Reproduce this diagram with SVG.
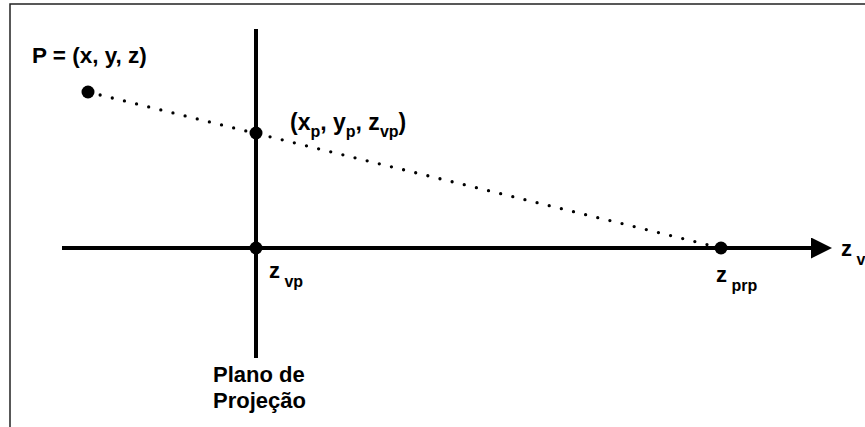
<svg xmlns="http://www.w3.org/2000/svg" width="865" height="427" viewBox="0 0 865 427">
  <defs>
    <style>
      .lbl { font-family: "Liberation Sans", Arial, sans-serif; font-weight: bold; fill: #000; }
      .pt { fill: #000; }
      .frame { fill: none; stroke: #222; stroke-width: 1.5; }
      .solid { stroke: #000; stroke-width: 4; fill: none; }
      .dots { stroke: #000; stroke-width: 3.3; stroke-linecap: round; stroke-dasharray: 0 12.5; fill: none; }
    </style>
    <marker id="arrow" markerWidth="22" markerHeight="22" refX="0" refY="10.5" orient="auto" markerUnits="userSpaceOnUse">
      <path d="M0,0 L21,10.5 L0,21 Z" fill="#000"/>
    </marker>
  </defs>
  <rect width="865" height="427" fill="#fff"/>
  <path class="frame" d="M10,427 L10,4 L865,4"/>

  <g id="connectors">
    <line id="projector" class="dots" x1="88" y1="92" x2="721" y2="248"/>
    <line id="axis-z" class="solid" x1="62" y1="248" x2="811" y2="248" marker-end="url(#arrow)"/>
    <line id="plane-line" class="solid" x1="256" y1="29" x2="256" y2="358"/>
  </g>

  <g id="node-P">
    <circle class="pt" cx="88" cy="92" r="6.5"/>
    <text class="lbl" x="32" y="63" font-size="22.5">P = (x, y, z)</text>
  </g>

  <g id="node-proj">
    <circle class="pt" cx="256" cy="133" r="6.5"/>
    <text class="lbl" x="290" y="130" font-size="23">(x<tspan font-size="16" dy="7">p</tspan><tspan dy="-7">, y</tspan><tspan font-size="16" dy="7">p</tspan><tspan dy="-7">, z</tspan><tspan font-size="16" dy="7">vp</tspan><tspan dy="-7">)</tspan></text>
  </g>

  <g id="node-zvp">
    <circle class="pt" cx="256" cy="248" r="6.5"/>
    <text class="lbl" x="269" y="278" font-size="22">z<tspan font-size="16" dy="9"> vp</tspan></text>
  </g>

  <g id="node-zprp">
    <circle class="pt" cx="721" cy="248" r="6.5"/>
    <text class="lbl" x="716" y="282" font-size="22">z<tspan font-size="16" dy="9"> prp</tspan></text>
  </g>

  <g id="node-zv">
    <text class="lbl" x="841" y="256" font-size="22">z<tspan font-size="16" dy="9"> v</tspan></text>
  </g>

  <g id="node-plane-label">
    <text class="lbl" x="213" y="382" font-size="22">Plano de</text>
    <text class="lbl" x="213" y="408" font-size="22">Projeção</text>
  </g>
</svg>
